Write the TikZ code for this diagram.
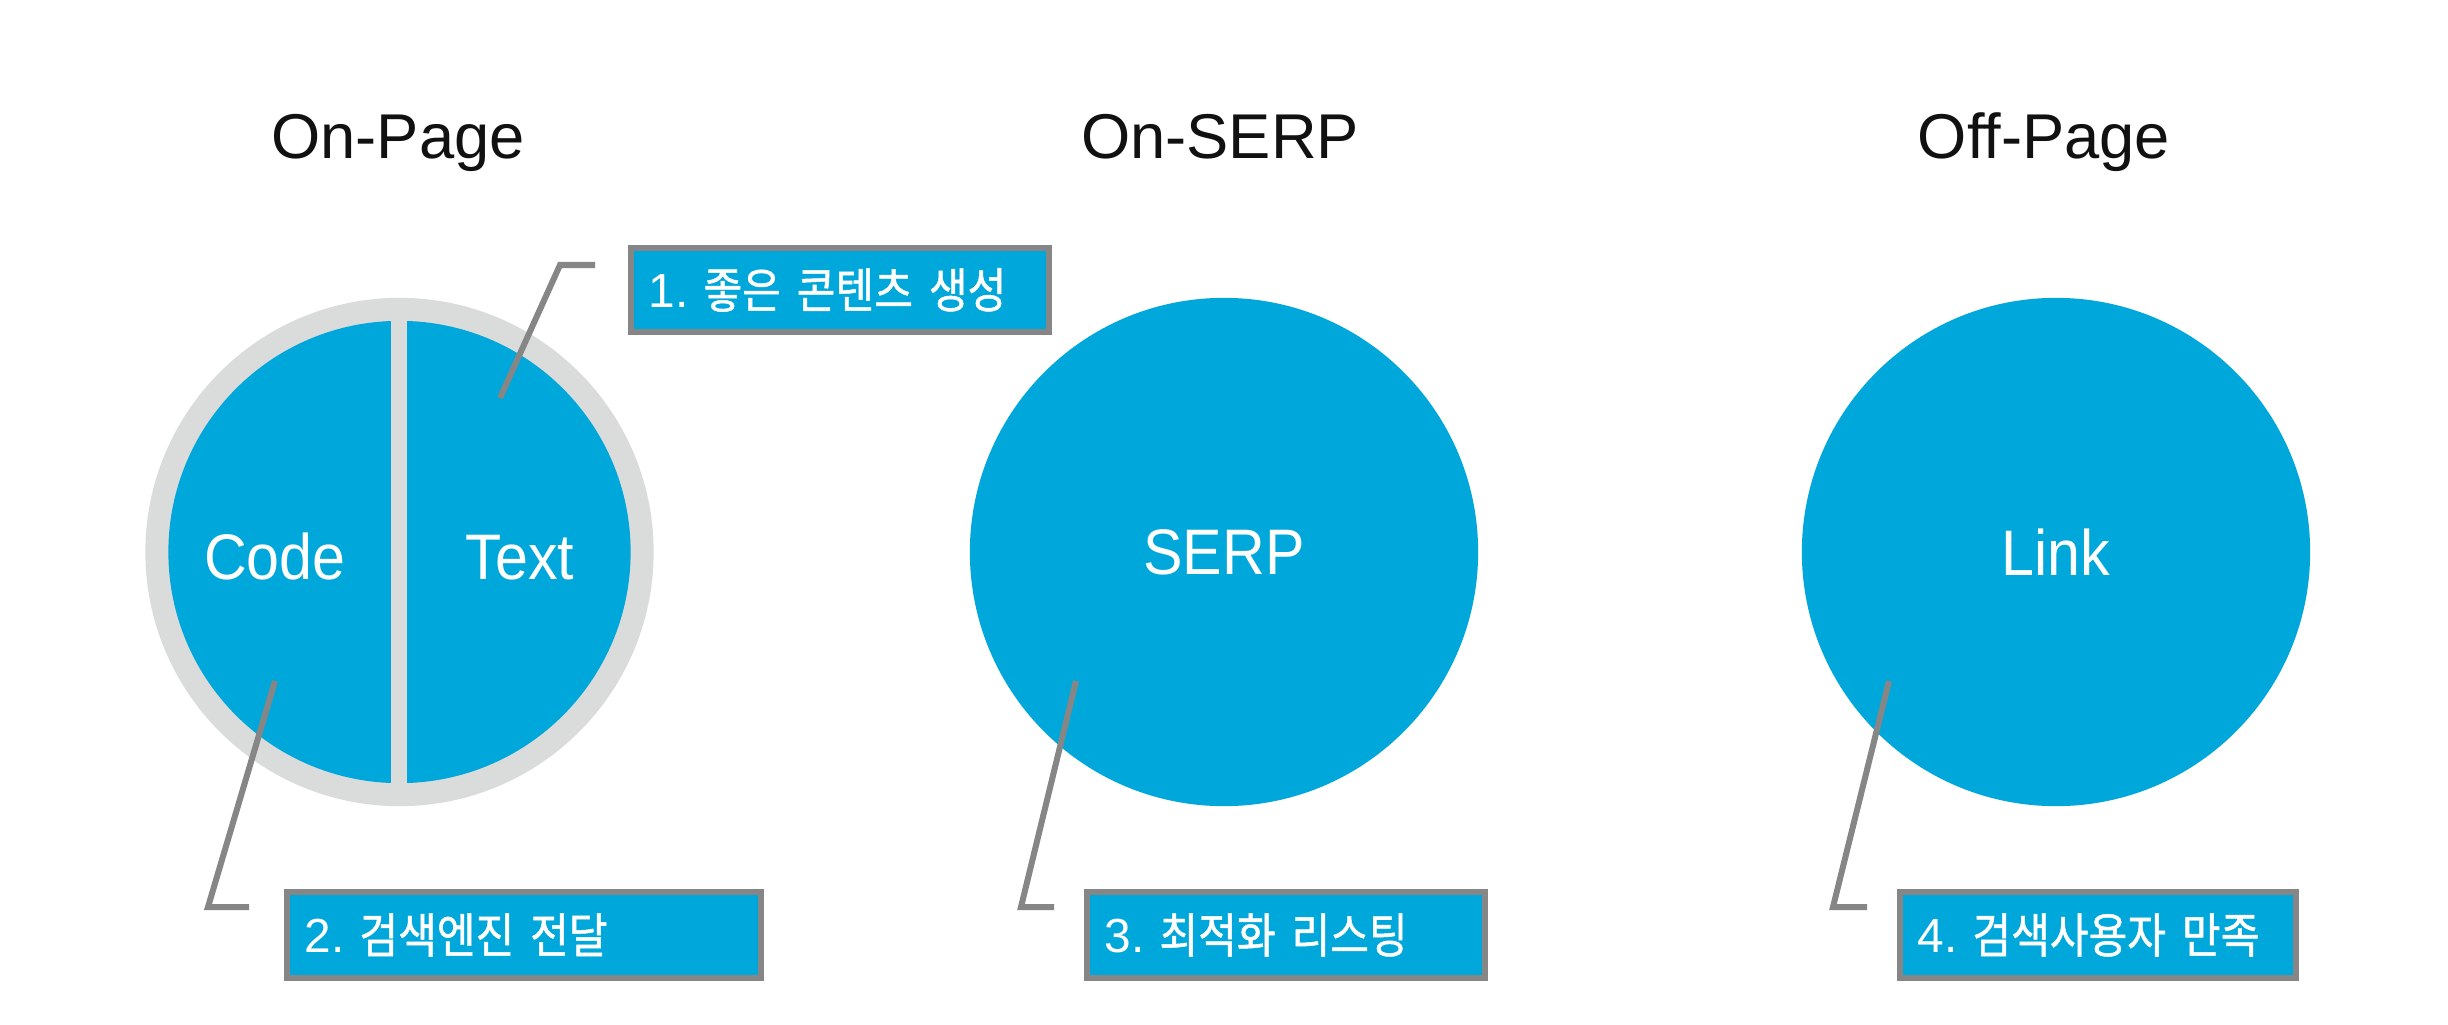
\documentclass[tikz,border=0pt]{standalone}
\usepackage{fontspec}
\setmainfont{Liberation Sans}
\newfontfamily\cjk[FakeStretch=0.88,FakeBold=1,WordSpace=1.2]{Noto Sans CJK KR}
\newfontfamily\lab[FakeStretch=0.92]{Liberation Sans}
\newcommand\bxnum[1]{{\rmfamily\fontsize{13.6pt}{16pt}\selectfont #1}\kern-0.09cm\relax}
\definecolor{cblue}{RGB}{0,167,218}
\definecolor{bordergray}{RGB}{134,134,134}
\definecolor{ringgray}{RGB}{218,220,220}
\definecolor{titleblack}{RGB}{17,17,17}
\tikzset{
  title/.style={anchor=base, text=titleblack, font=\fontsize{18pt}{20pt}\selectfont, inner sep=0pt},
  circlabel/.style={anchor=base, text=white, font=\lab\fontsize{18.3pt}{20pt}\selectfont, inner sep=0pt},
  bigcircle/.style={circle, fill=cblue, minimum size=5.08cm, inner sep=0pt, text=white, font=\lab\fontsize{18.3pt}{20pt}\selectfont},
  callbox/.style={rectangle, fill=cblue, draw=bordergray, line width=1.85pt, minimum height=0.855cm,
    inner xsep=0.175cm, inner ysep=0pt, align=left, text=white, font=\cjk\fontsize{13.6pt}{16pt}\selectfont},
  leader/.style={draw=bordergray, line width=1.71pt, line join=miter}
}
\begin{document}
\begin{tikzpicture}[x=0.01cm, y=-0.01cm]
\useasboundingbox (0,0) rectangle (2448,1024);
\fill[white] (0,0) rectangle (2448,1024);

% titles
\node[title] (t1) at (398,158) {On-Page};
\node[title] (t2) at (1220,158) {On-SERP};
\node[title] (t3) at (2044,158) {Off-Page};

% circle 1 (On-Page)
\node[circle, fill=ringgray, minimum size=5.08cm, inner sep=0pt] (c1) at (399.5,552) {};
\fill[cblue] (c1.center) circle [radius=2.31cm];
\fill[ringgray] (391,315) rectangle (407,790);
\node[circlabel] (code) at (275,579) {Code};
\node[circlabel] (text) at (520,579) {Text};

% circles 2, 3
\node[bigcircle] (c2) at (1224,552) {SERP};
\node[bigcircle] (c3) at (2056,552) {Link};

% callout boxes
\node[callbox, minimum height=0.835cm, text width=3.825cm] (b1) at (840,290) {\bxnum{1.} 좋은 콘텐츠 생성};
\node[callbox, text width=4.385cm] (b2) at (524,935) {\bxnum{2.} 검색엔진 전달};
\node[callbox, text width=3.625cm] (b3) at (1286,935) {\bxnum{3.} 최적화 리스팅};
\node[callbox, text width=3.605cm] (b4) at (2098,935) {\bxnum{4.} 검색사용자 만족};

% leader lines
\coordinate (s1) at (500,398);
\coordinate (k1) at (560,265);
\coordinate (e1) at (595,265);
\draw[leader] (s1) -- (k1) -- (e1);

\coordinate (s2) at (275,681);
\coordinate (k2) at (208,907);
\coordinate (e2) at (249,907);
\draw[leader] (s2) -- (k2) -- (e2);

\coordinate (s3) at (1076,681);
\coordinate (k3) at (1021,907);
\coordinate (e3) at (1054,907);
\draw[leader] (s3) -- (k3) -- (e3);

\coordinate (s4) at (1889,681);
\coordinate (k4) at (1833,907);
\coordinate (e4) at (1867,907);
\draw[leader] (s4) -- (k4) -- (e4);
\end{tikzpicture}
\end{document}
